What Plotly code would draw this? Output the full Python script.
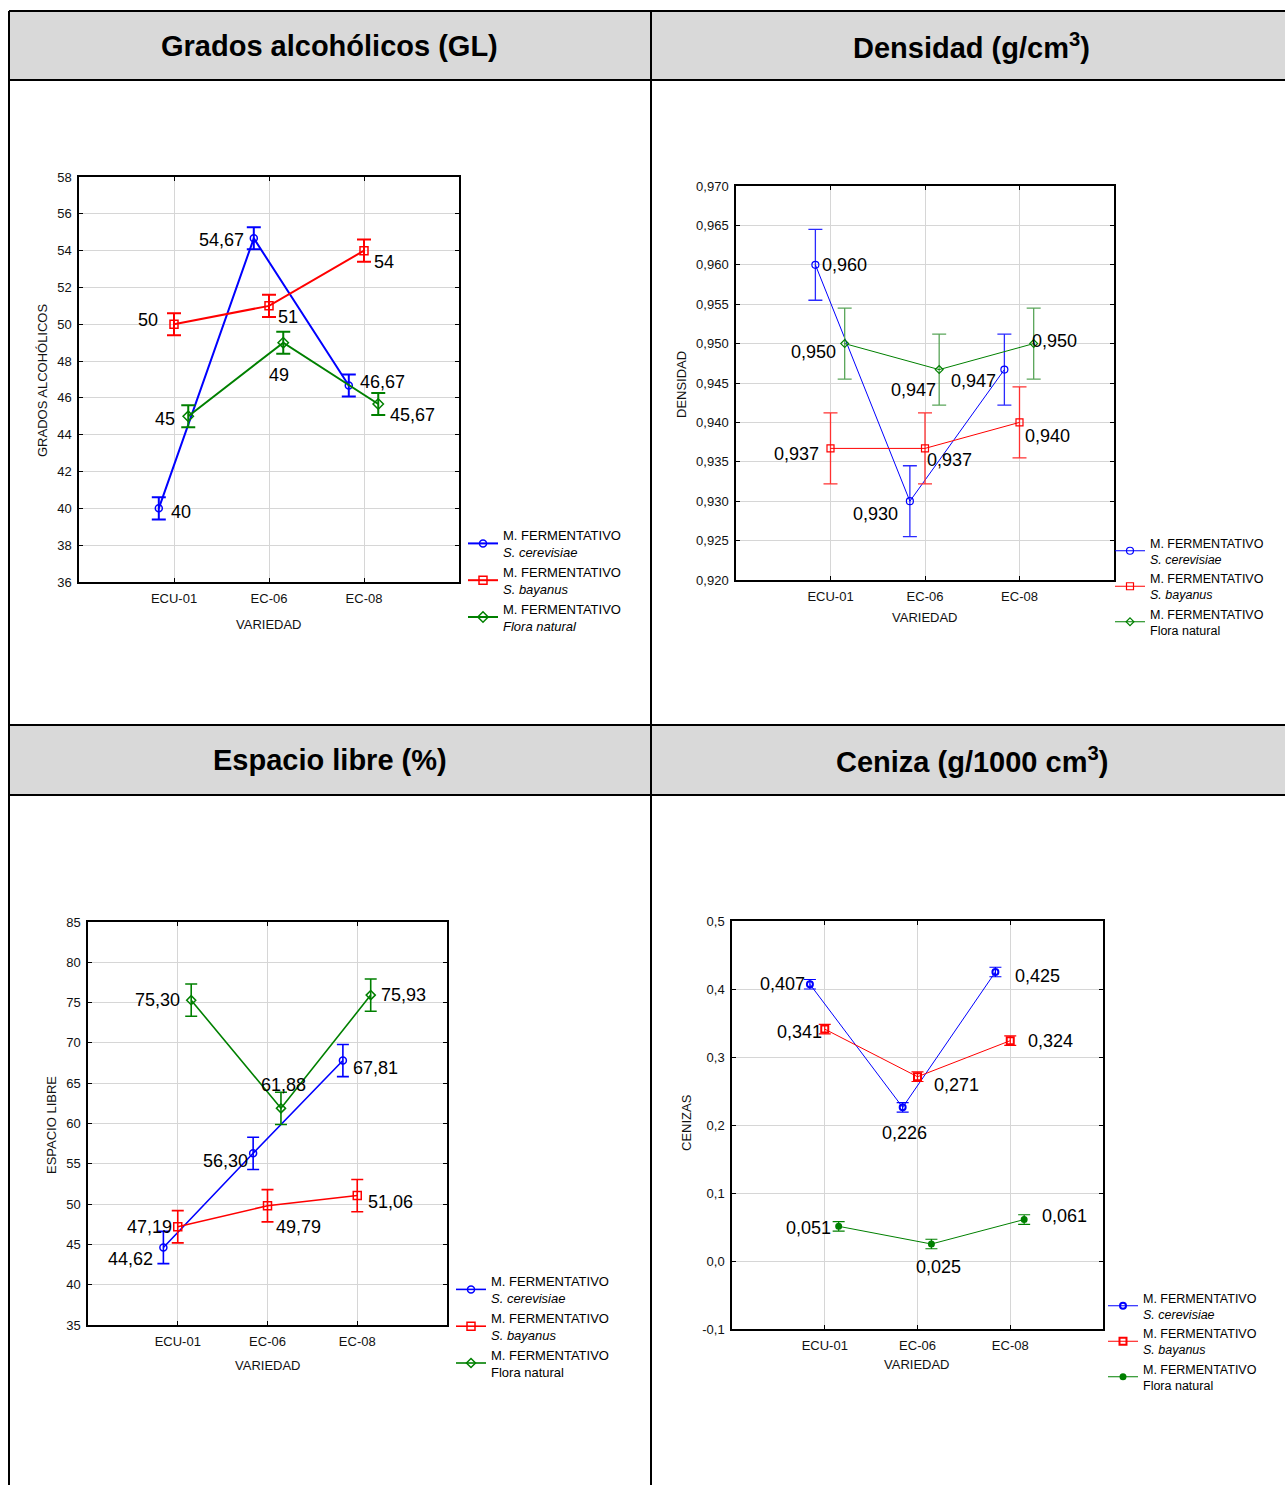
import plotly.graph_objects as go

W, H = 1285, 1485
FONT = "Liberation Sans, Arial, sans-serif"

# ---------------- data ----------------
categories = ["ECU-01", "EC-06", "EC-08"]

panel_titles = ["Grados alcohólicos (GL)", "Densidad (g/cm<sup>3</sup>)",
                "Espacio libre (%)", "Ceniza (g/1000 cm<sup>3</sup>)"]
y_titles = ["GRADOS ALCOHÓLICOS", "DENSIDAD", "ESPACIO LIBRE", "CENIZAS"]
x_title = "VARIEDAD"

# series: S. cerevisiae (blue), S. bayanus (red), Flora natural (green)
grados_cerevisiae = [40, 54.67, 46.67]
grados_bayanus = [50, 51, 54]
grados_flora = [45, 49, 45.67]
grados_err = [0.6, 0.6, 0.6]

densidad_cerevisiae = [0.960, 0.930, 0.9467]
densidad_bayanus = [0.9367, 0.9367, 0.940]
densidad_flora = [0.950, 0.9467, 0.950]
densidad_err = [0.0045, 0.0045, 0.0045]

espacio_cerevisiae = [44.62, 56.30, 67.81]
espacio_bayanus = [47.19, 49.79, 51.06]
espacio_flora = [75.30, 61.88, 75.93]
espacio_err = [2.0, 2.0, 2.0]

ceniza_cerevisiae = [0.407, 0.226, 0.425]
ceniza_bayanus = [0.341, 0.271, 0.324]
ceniza_flora = [0.051, 0.025, 0.061]
ceniza_err = [0.007, 0.007, 0.007]

legend_line1 = "M. FERMENTATIVO"
legend_line2_italic = ["<i>S. cerevisiae</i>", "<i>S. bayanus</i>", "<i>Flora natural</i>"]
legend_line2_plain = ["<i>S. cerevisiae</i>", "<i>S. bayanus</i>", "Flora natural"]

grados_ticks = [36, 38, 40, 42, 44, 46, 48, 50, 52, 54, 56, 58]
densidad_ticks = [0.920, 0.925, 0.930, 0.935, 0.940, 0.945, 0.950, 0.955, 0.960, 0.965, 0.970]
densidad_ticktext = ["0,920", "0,925", "0,930", "0,935", "0,940", "0,945", "0,950",
                     "0,955", "0,960", "0,965", "0,970"]
espacio_ticks = [35, 40, 45, 50, 55, 60, 65, 70, 75, 80, 85]
ceniza_ticks = [-0.1, 0.0, 0.1, 0.2, 0.3, 0.4, 0.5]
ceniza_ticktext = ["-0,1", "0,0", "0,1", "0,2", "0,3", "0,4", "0,5"]

# ---------------- style ----------------
COLORS = ["#0000ff", "#ff0000", "#008000"]
DODGE = [-0.16, 0.0, 0.15]


def px(x):
    return x / W


def py(y):
    return 1 - y / H


def fmt_grados(v):
    return str(int(v)) if float(v).is_integer() else f"{v:.2f}".replace(".", ",")


def fmt2(v):
    return f"{v:.2f}".replace(".", ",")


def fmt3(v):
    return f"{v:.3f}".replace(".", ",")


panels = [
    dict(series=[grados_cerevisiae, grados_bayanus, grados_flora], err=grados_err,
         fmt=fmt_grados, yrange=[36, 58], ticks=grados_ticks, ticktext=[str(t) for t in grados_ticks],
         box=(79, 177, 459, 582), lw=2, ew=2, cap=7, errcolors=COLORS,
         symbols=["circle-open", "square-open", "diamond-open"], msize=[7, 8, 8], mlw=1.5,
         legend_names=legend_line2_italic, legend_pos=(463, 520), legend_font=13,
         ytitle_pos=(42, 381), xtitle_pos=(269, 624),
         # (xanchor, xshift, yshift) per series per point
         place=[[("left", 10, -4), ("right", -8, -2), ("left", 9, 4)],
                [("right", -14, 4), ("left", 7, -11), ("left", 8, -11)],
                [("right", -11, -3), ("center", -4, -32), ("left", 10, -11)]]),
    dict(series=[densidad_cerevisiae, densidad_bayanus, densidad_flora], err=densidad_err,
         fmt=fmt3, yrange=[0.920, 0.970], ticks=densidad_ticks, ticktext=densidad_ticktext,
         box=(736, 186, 1114, 580), lw=1, ew=1.3, cap=7,
         errcolors=["#2a2aff", "#ff3030", "#5aa55a"],
         symbols=["circle-open", "square-open", "diamond-open"], msize=[7, 7, 6], mlw=1.2,
         legend_names=legend_line2_plain, legend_pos=(1110, 528), legend_font=12.5,
         ytitle_pos=(681, 385), xtitle_pos=(925, 617),
         place=[[("left", 5, 0), ("right", -10, -13), ("right", -6, -11)],
                [("right", -10, -6), ("left", 0, -12), ("left", 3, -14)],
                [("right", -7, -8), ("right", -1, -20), ("left", -4, 3)]]),
    dict(series=[espacio_cerevisiae, espacio_bayanus, espacio_flora], err=espacio_err,
         fmt=fmt2, yrange=[35, 85], ticks=espacio_ticks, ticktext=[str(t) for t in espacio_ticks],
         box=(88, 922, 447, 1325), lw=1.6, ew=1.6, cap=6, errcolors=COLORS,
         symbols=["circle-open", "square-open", "diamond-open"], msize=[7, 8, 7], mlw=1.5,
         legend_names=legend_line2_plain, legend_pos=(451, 1266), legend_font=13,
         ytitle_pos=(51, 1125), xtitle_pos=(268, 1365),
         place=[[("right", -8, -12), ("right", -3, -8), ("left", 8, -7)],
                [("right", -4, 0), ("left", 6, -21), ("left", 9, -6)],
                [("right", -9, 0), ("center", 3, 23), ("left", 8, 0)]]),
    dict(series=[ceniza_cerevisiae, ceniza_bayanus, ceniza_flora], err=ceniza_err,
         fmt=fmt3, yrange=[-0.1, 0.5], ticks=ceniza_ticks, ticktext=ceniza_ticktext,
         box=(732, 921, 1103, 1329), lw=1, ew=1.2, cap=6, errcolors=COLORS,
         symbols=["circle-open", "square-open", "circle"], msize=[6, 7, 5], mlw=2,
         legend_names=legend_line2_plain, legend_pos=(1103, 1283), legend_font=12.5,
         ytitle_pos=(686, 1123), xtitle_pos=(917, 1364),
         place=[[("right", -3, 0), ("center", 2, -26), ("left", 18, -4)],
                [("right", -1, -3), ("left", 14, -8), ("left", 16, 0)],
                [("right", -6, -2), ("center", 7, -23), ("left", 16, 4)]]),
]

fig = go.Figure()
annotations = []
layout_axes = {}

for i, p in enumerate(panels):
    n = "" if i == 0 else str(i + 1)
    xa, ya = "x" + n, "y" + n
    leg = "legend" + n
    x0, y0, x1, y1 = p["box"]
    xs_base = list(range(1, len(categories) + 1))
    for s, vals in enumerate(p["series"]):
        xs = [xb + DODGE[s] for xb in xs_base]
        fig.add_trace(go.Scatter(
            x=xs, y=vals, xaxis=xa, yaxis=ya, mode="lines+markers",
            name=legend_line1 + "<br>" + p["legend_names"][s],
            legend=leg,
            line=dict(color=COLORS[s], width=p["lw"]),
            marker=dict(symbol=p["symbols"][s], size=p["msize"][s], color=COLORS[s],
                        line=dict(color=COLORS[s], width=p["mlw"])),
            error_y=dict(type="data", array=[p["err"][k] for k in range(len(vals))],
                         color=p["errcolors"][s], thickness=p["ew"], width=p["cap"]),
        ))
        for k, v in enumerate(vals):
            anc, xsft, ysft = p["place"][s][k]
            annotations.append(dict(
                x=xs[k], y=v, xref=xa, yref=ya, text=p["fmt"](v), showarrow=False,
                xanchor=anc, yanchor="middle", xshift=xsft, yshift=ysft,
                font=dict(family=FONT, size=18, color="#000000")))
    axis_common = dict(showline=True, linecolor="#000000", linewidth=1.5, mirror="ticks",
                       ticks="inside", ticklen=4, tickcolor="#000000",
                       showgrid=True, gridcolor="#d6d6d6", gridwidth=1, zeroline=False,
                       automargin=False,
                       tickfont=dict(family=FONT, size=13, color="#111111"))
    layout_axes["xaxis" + n] = dict(axis_common, domain=[px(x0), px(x1)], anchor=ya,
                                    range=[0, len(categories) + 1], tickvals=xs_base,
                                    ticktext=categories, ticklabelstandoff=4)
    layout_axes["yaxis" + n] = dict(axis_common, domain=[py(y1), py(y0)], anchor=xa,
                                    range=p["yrange"], tickvals=p["ticks"],
                                    ticktext=p["ticktext"], ticklabelstandoff=3)
    lx, ly = p["legend_pos"]
    layout_axes[leg] = dict(x=px(lx), y=py(ly), xanchor="left", yanchor="top",
                            font=dict(family=FONT, size=p["legend_font"], color="#000000"),
                            bgcolor="rgba(0,0,0,0)", itemwidth=30, tracegroupgap=0,
                            traceorder="normal")
    tx, ty = p["ytitle_pos"]
    annotations.append(dict(x=px(tx), y=py(ty), xref="paper", yref="paper", text=y_titles[i],
                            textangle=-90, showarrow=False, xanchor="center", yanchor="middle",
                            font=dict(family=FONT, size=13, color="#111111")))
    tx, ty = p["xtitle_pos"]
    annotations.append(dict(x=px(tx), y=py(ty), xref="paper", yref="paper", text=x_title,
                            showarrow=False, xanchor="center", yanchor="middle",
                            font=dict(family=FONT, size=13, color="#111111")))

# ---------------- table frame & headers ----------------
RIGHT = 1285
shapes = []
for (top, bot) in [(11, 80), (725, 795)]:
    shapes.append(dict(type="rect", xref="paper", yref="paper", x0=px(9), x1=px(RIGHT),
                       y0=py(bot), y1=py(top), fillcolor="#d9d9d9", line=dict(width=0), layer="below"))
for yl in [11, 80, 725, 795]:
    shapes.append(dict(type="line", xref="paper", yref="paper", x0=px(9), x1=px(RIGHT),
                       y0=py(yl), y1=py(yl), line=dict(color="#000000", width=2)))
for xl in [9, 651]:
    shapes.append(dict(type="line", xref="paper", yref="paper", x0=px(xl), x1=px(xl),
                       y0=py(1485), y1=py(11), line=dict(color="#000000", width=2)))

header_pos = [(330, 45.5), (971.5, 45.5), (330, 760), (971.5, 760)]
for (hx, hy), t in zip(header_pos, panel_titles):
    annotations.append(dict(x=px(hx), y=py(hy), xref="paper", yref="paper", text="<b>" + t + "</b>",
                            showarrow=False, xanchor="center", yanchor="middle",
                            font=dict(family=FONT, size=29, color="#000000")))

fig.update_layout(
    width=W, height=H, margin=dict(l=0, r=0, t=0, b=0, pad=0, autoexpand=False),
    paper_bgcolor="#ffffff", plot_bgcolor="#ffffff",
    showlegend=True, shapes=shapes, annotations=annotations,
    font=dict(family=FONT, color="#000000"),
    **layout_axes,
)

fig.write_html("out.html")
